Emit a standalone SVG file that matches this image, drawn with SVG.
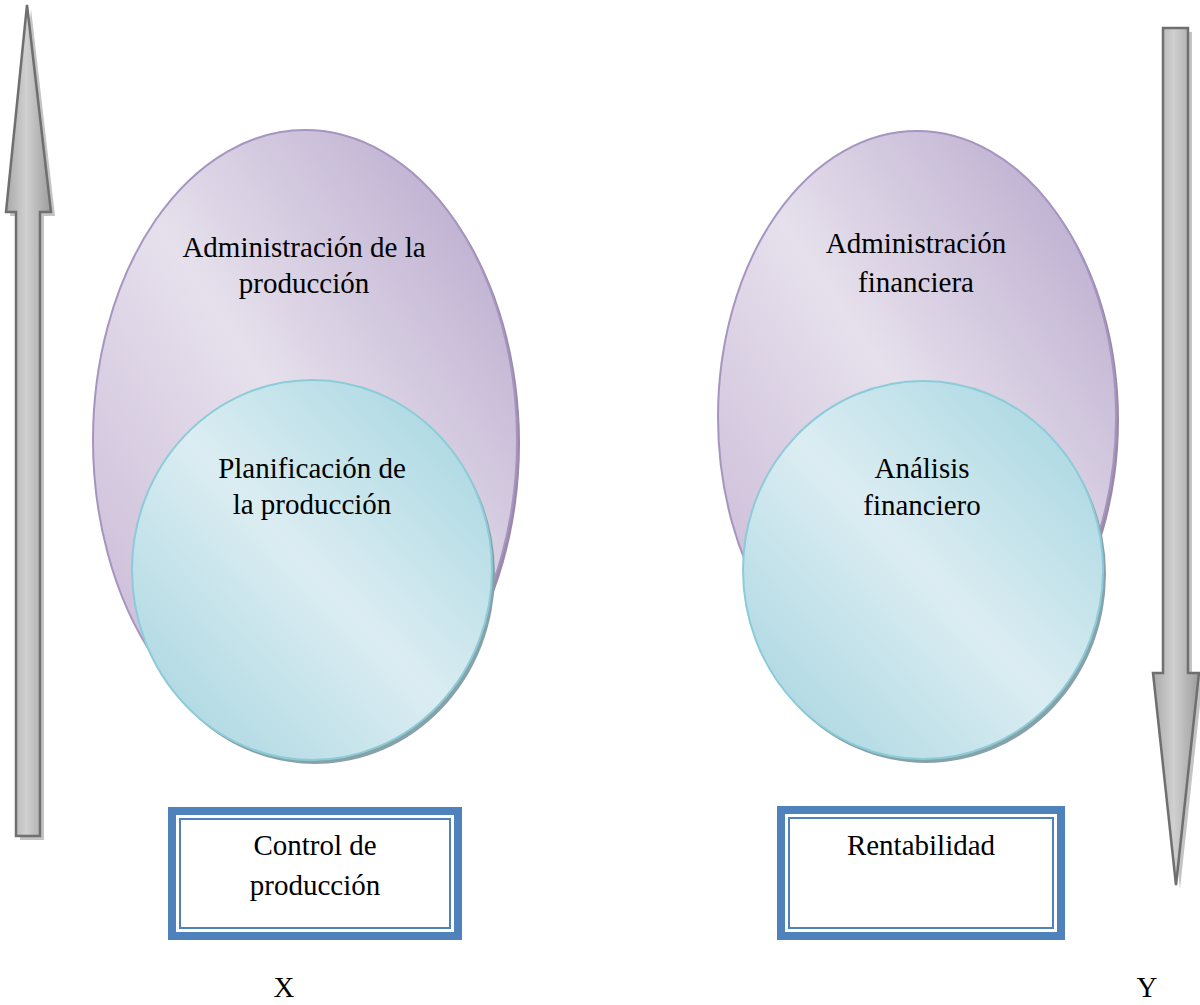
<svg xmlns="http://www.w3.org/2000/svg" width="1200" height="1005" viewBox="0 0 1200 1005">
  <defs>
    <linearGradient id="gPurple" x1="1" y1="0" x2="0" y2="1">
      <stop offset="0" stop-color="#b3a2c9"/>
      <stop offset="0.5" stop-color="#e6e0ec"/>
      <stop offset="1" stop-color="#c6b4d4"/>
    </linearGradient>
    <linearGradient id="gCyan" x1="1" y1="0" x2="0" y2="1">
      <stop offset="0" stop-color="#a0d3df"/>
      <stop offset="0.5" stop-color="#dbedf2"/>
      <stop offset="1" stop-color="#a3d3df"/>
    </linearGradient>
    <linearGradient id="gArrow" x1="0" y1="0" x2="1" y2="0">
      <stop offset="0" stop-color="#a9a9a9"/>
      <stop offset="0.45" stop-color="#d0d0d0"/>
      <stop offset="1" stop-color="#9c9c9c"/>
    </linearGradient>
    <style>
      text { font-family: 'Liberation Serif', 'Times New Roman', Tinos, 'DejaVu Serif', serif; font-size: 29px; fill: #000000; text-anchor: middle; }
      .big { fill: url(#gPurple); stroke: #a595c0; stroke-width: 2; }
      .bigShadow { fill: #9a8aa8; }
      .small { fill: url(#gCyan); stroke: #8ccbd8; stroke-width: 2; }
      .smallShadow { fill: #86a2a8; }
      .arrow { fill: url(#gArrow); stroke: #6f6f6f; stroke-width: 2.5; stroke-linejoin: miter; }
      .arrowShadow { fill: #c4c4c4; }
      .outer { fill: #4f81bd; }
      .gap { fill: #ffffff; }
      .inner { fill: #ffffff; stroke: #4f81bd; stroke-width: 2; }
    </style>
  </defs>

  <!-- side arrows -->
  <g id="connectors">
    <g id="arrow-up">
      <polygon class="arrowShadow" points="31,9 55,216 44,216 44,840 20,840 20,216 10,216"/>
      <polygon class="arrow" points="27,5 51,212 40,212 40,836 16,836 16,212 6,212"/>
    </g>
    <g id="arrow-down">
      <polygon class="arrowShadow" points="1167,32 1192,32 1192,677 1203,677 1180,889 1157,677 1167,677"/>
      <polygon class="arrow" points="1163,28 1188,28 1188,673 1199,673 1176,885 1153,673 1163,673"/>
    </g>
  </g>

  <g font-family="Liberation Serif, serif">
  <!-- left cluster -->
  <g id="admin-produccion">
    <ellipse class="bigShadow" cx="308" cy="443" rx="212" ry="310"/>
    <ellipse class="big" cx="305" cy="440" rx="212" ry="310"/>
    <text x="304" y="257">Administración de la</text>
    <text x="304" y="293">producción</text>
  </g>
  <g id="planificacion">
    <ellipse class="smallShadow" cx="315" cy="574" rx="180" ry="190"/>
    <ellipse class="small" cx="312" cy="570" rx="180" ry="190"/>
    <text x="312" y="478">Planificación de</text>
    <text x="312" y="514">la producción</text>
  </g>
  <g id="control">
    <rect class="outer" x="168" y="807" width="294" height="133"/>
    <rect class="gap" x="176" y="815" width="278" height="117"/>
    <rect class="inner" x="180" y="819" width="270" height="109"/>
    <text x="315" y="855">Control de</text>
    <text x="315" y="895">producción</text>
  </g>
  <g id="label-x">
    <text x="284" y="997">X</text>
  </g>

  <!-- right cluster -->
  <g id="admin-financiera">
    <ellipse class="bigShadow" cx="920" cy="420" rx="199" ry="286"/>
    <ellipse class="big" cx="917" cy="417" rx="199" ry="286"/>
    <text x="916" y="253">Administración</text>
    <text x="916" y="292">financiera</text>
  </g>
  <g id="analisis">
    <ellipse class="smallShadow" cx="926" cy="574" rx="180" ry="189"/>
    <ellipse class="small" cx="923" cy="570" rx="180" ry="189"/>
    <text x="922" y="478">Análisis</text>
    <text x="922" y="515">financiero</text>
  </g>
  <g id="rentabilidad">
    <rect class="outer" x="777" y="806" width="288" height="134"/>
    <rect class="gap" x="785" y="814" width="272" height="118"/>
    <rect class="inner" x="789" y="818" width="264" height="110"/>
    <text x="921" y="855">Rentabilidad</text>
  </g>
  <g id="label-y">
    <text x="1147" y="997">Y</text>
  </g>
  </g>
</svg>
